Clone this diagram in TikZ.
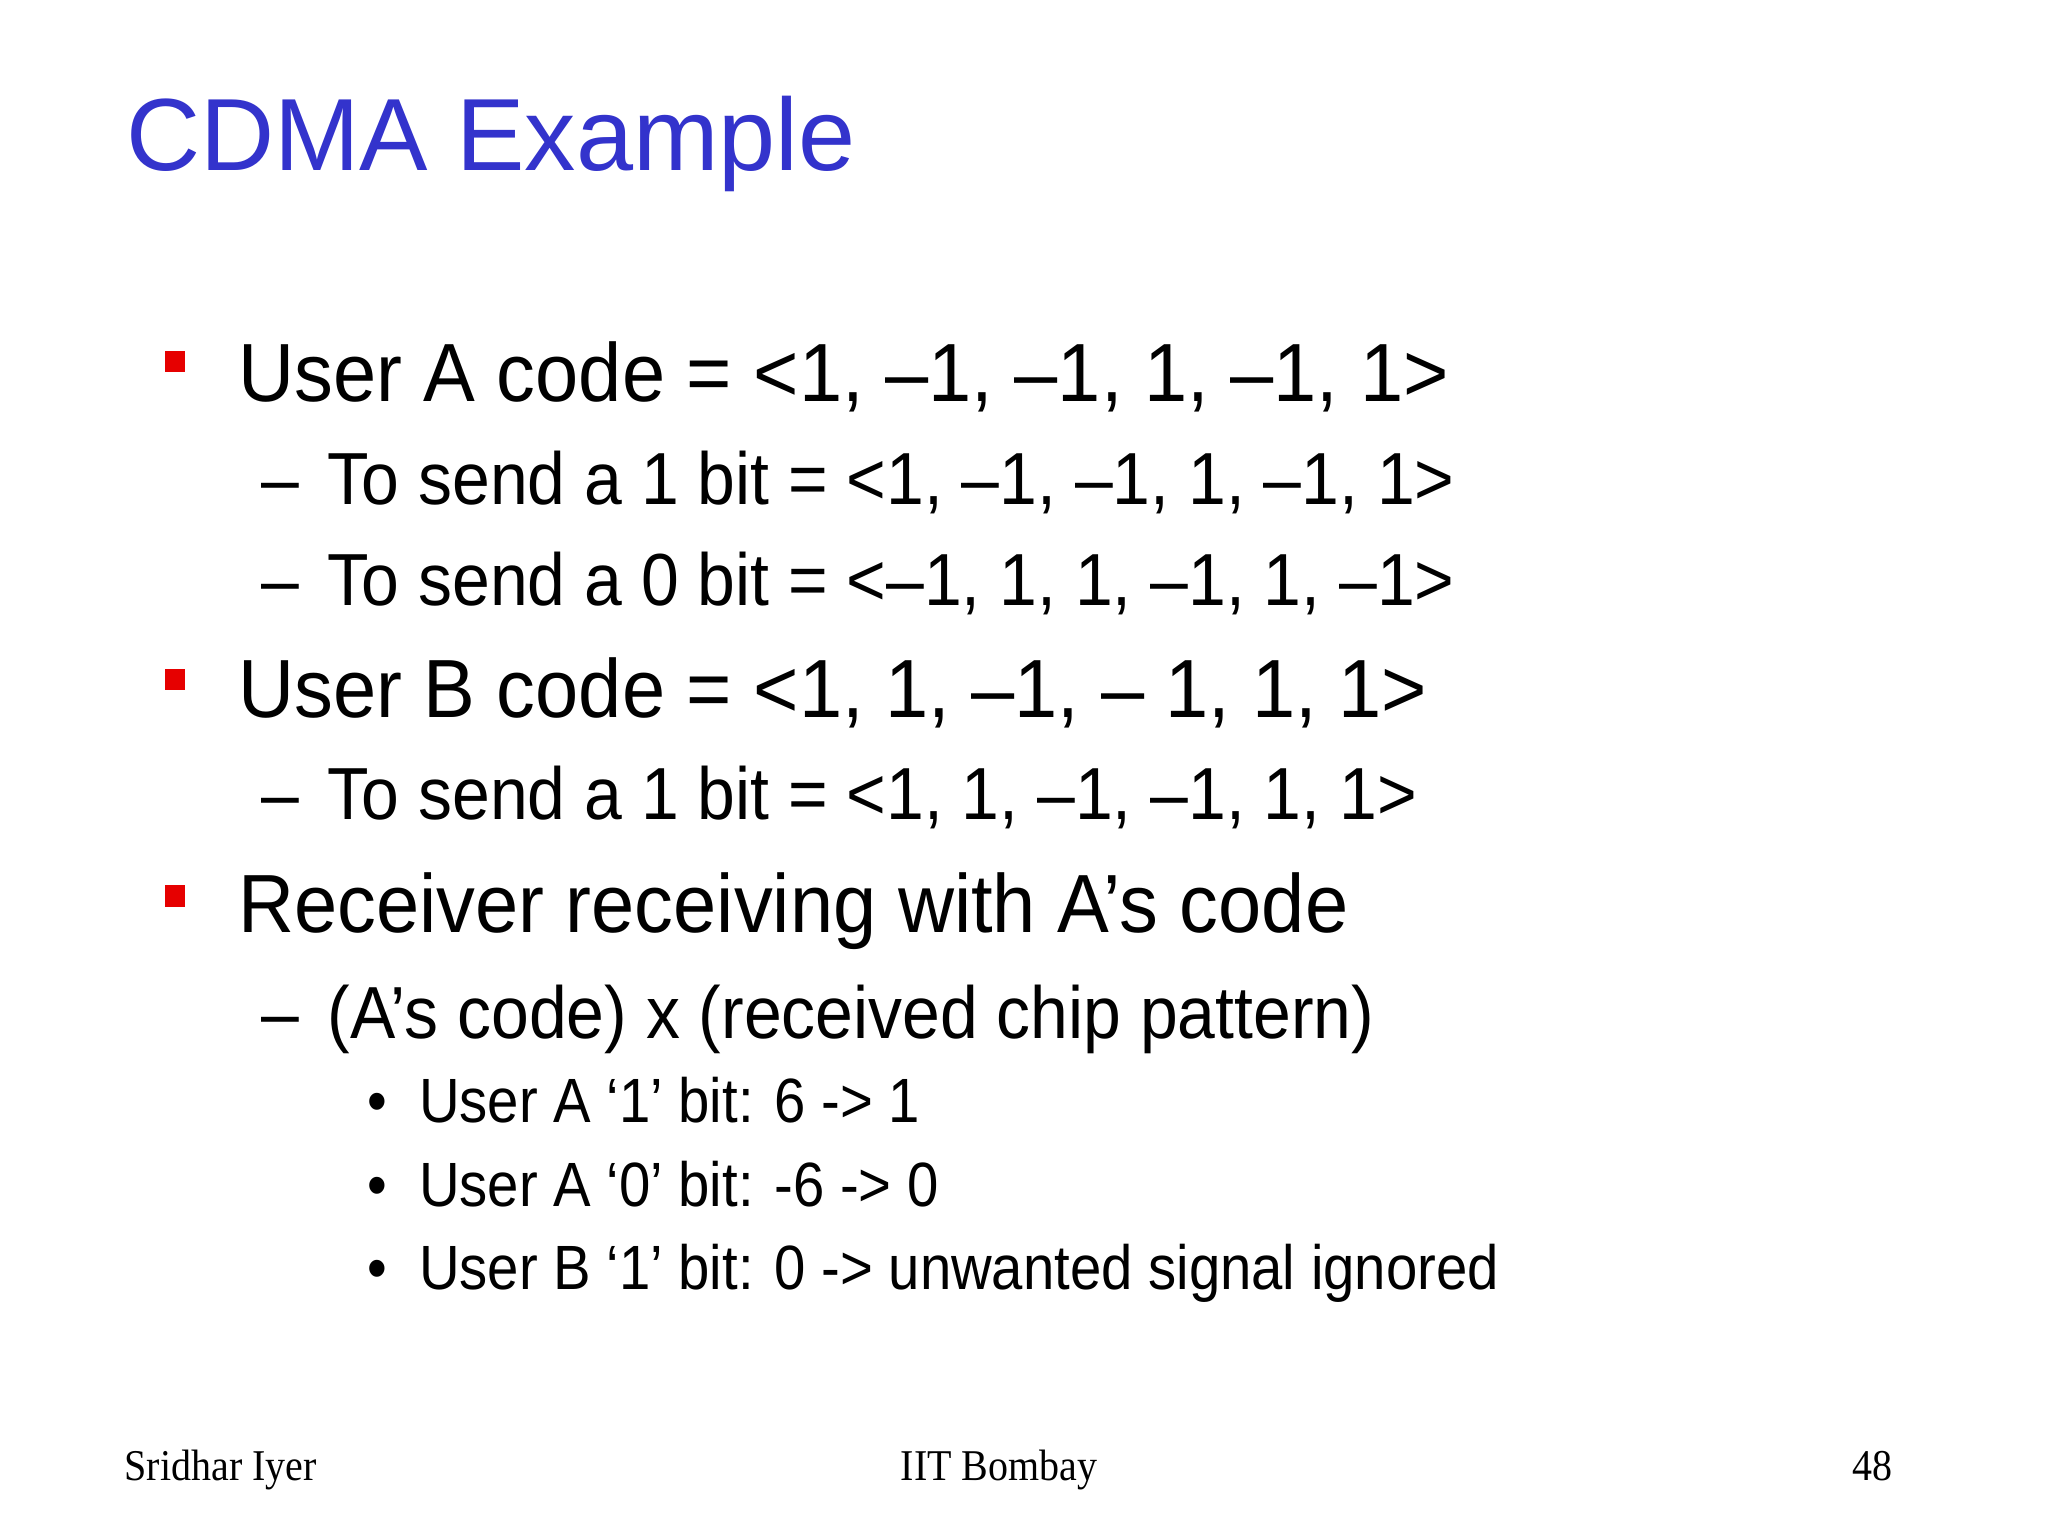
\documentclass[tikz,border=0pt]{standalone}
\usepackage{fontspec}
\setmainfont{Liberation Sans}
\newfontfamily\bodyA{Liberation Sans}[FakeStretch=0.94]
\newfontfamily\bodyB{Liberation Sans}[FakeStretch=0.92]
\newfontfamily\bodyC{Liberation Sans}[FakeStretch=0.90]
\newfontfamily\serifft{Liberation Serif}[FakeStretch=0.91]
\definecolor{titleblue}{RGB}{51,51,204}
\definecolor{bulletred}{RGB}{230,0,0}
\begin{document}
\begin{tikzpicture}[x=0.0132cm,y=-0.0132cm,
  t/.style={anchor=base west,inner sep=0pt},
  l1/.style={t,font=\bodyA\fontsize{23.5}{28}\selectfont},
  l2/.style={t,font=\bodyB\fontsize{21}{25}\selectfont},
  l3/.style={t,font=\bodyC\fontsize{17.8}{21}\selectfont},
  ft/.style={anchor=base,inner sep=0pt,font=\serifft\fontsize{12.5}{15}\selectfont},
  sq/.style={fill=bulletred,draw=none}]
\useasboundingbox (0,0) rectangle (1552,1164);
\fill[white] (0,0) rectangle (1552,1164);
\node[t,text=titleblue,font=\fontsize{29.2}{34}\selectfont] (title) at (95,129) {CDMA Example};
% level 1
\fill[sq] (125,266) rectangle (140,282);
\node[l1] (a) at (180,304) {User A code = <1, –1, –1, 1, –1, 1>};
\node[l2] (a1d) at (198,382) {–};
\node[l2] (a1) at (248,382) {To send a 1 bit = <1, –1, –1, 1, –1, 1>};
\node[l2] (a0d) at (198,459) {–};
\node[l2] (a0) at (248,459) {To send a 0 bit = <–1, 1, 1, –1, 1, –1>};
\fill[sq] (125,507) rectangle (140,523);
\node[l1] (b) at (180,544) {User B code = <1, 1, –1, – 1, 1, 1>};
\node[l2] (b1d) at (198,621) {–};
\node[l2] (b1) at (248,621) {To send a 1 bit = <1, 1, –1, –1, 1, 1>};
\fill[sq] (125,671) rectangle (140,687);
\node[l1] (r) at (180,707) {Receiver receiving with A’s code};
\node[l2] (r1d) at (198,787) {–};
\node[l2] (r1) at (248,787) {(A’s code) x (received chip pattern)};
\node[l3] (d1) at (278,851) {•};
\node[l3] (c1) at (317,851) {User A ‘1’ bit: 6 -> 1};
\node[l3] (d2) at (278,914) {•};
\node[l3] (c2) at (317,914) {User A ‘0’ bit: -6 -> 0};
\node[l3] (d3) at (278,977) {•};
\node[l3] (c3) at (317,977) {User B ‘1’ bit: 0 -> unwanted signal ignored};
% footer
\node[ft,anchor=base west] (f1) at (94,1122) {Sridhar Iyer};
\node[ft] (f2) at (757,1122) {IIT Bombay};
\node[ft,anchor=base east] (f3) at (1435,1122) {48};
\end{tikzpicture}
\end{document}
